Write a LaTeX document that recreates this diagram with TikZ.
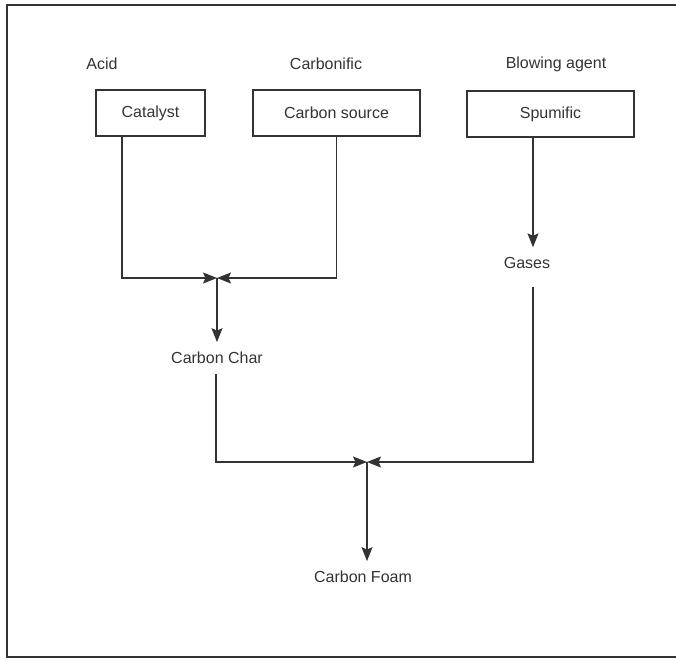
\documentclass[tikz,border=0pt]{standalone}
\usepackage{fontspec}
\setmainfont{Liberation Sans}
\usetikzlibrary{arrows.meta}

\begin{document}
\begin{tikzpicture}[x=1pt,y=-1pt,->,>={Stealth[length=14pt,width=11pt,inset=2.5pt]},
  line width=1.2pt,draw=black!80,text=black!80,font=\fontsize{16}{19}\selectfont,
  box node/.style={rectangle,draw,line width=2.4pt,minimum height=46pt,inner sep=0pt},
  top node/.style={inner sep=0pt},
  out node/.style={inner sep=0pt,outer xsep=0pt,outer ysep=10pt}]

  \useasboundingbox (0,0) rectangle (676,660);
  \draw[-] (690,5) -- (7,5) -- (7,657) -- (690,657);

  % the three starting materials
  \node[top node] (acid) at (102,64) {Acid};
  \node[top node] (carb) at (326,64) {Carbonific};
  \node[top node] (blow) at (556,64) {Blowing agent};

  \node[box node,minimum width=109pt] (cat) at (150.5,113) {Catalyst};
  \node[box node,minimum width=167pt] (src) at (336.5,113) {Carbon source};
  \node[box node,minimum width=167pt] (spu) at (550.5,114) {Spumific};

  % products
  \node[out node] (char) at (217,358) {Carbon Char};
  \node[out node] (gas) at (527,263) {Gases};
  \node[out node] (foam) at (363,577) {Carbon Foam};

  \coordinate (c1) at (122,0);
  \coordinate (g1) at (533,0);
  \coordinate (j1) at (217,278);
  \coordinate (j2) at (367,462);

  \draw (cat.south -| c1) |- (j1);
  \draw (src.south) |- (j1);
  \draw (j1) -- (char.north -| j1);

  \draw (spu.south -| g1) -- (gas.north -| g1);
  \draw[shorten <=8pt] (gas.south -| g1) |- (j2);
  \draw (char.south -| 216,0) |- (j2);
  \draw (j2) -- (foam.north -| j2);

\end{tikzpicture}
\end{document}
